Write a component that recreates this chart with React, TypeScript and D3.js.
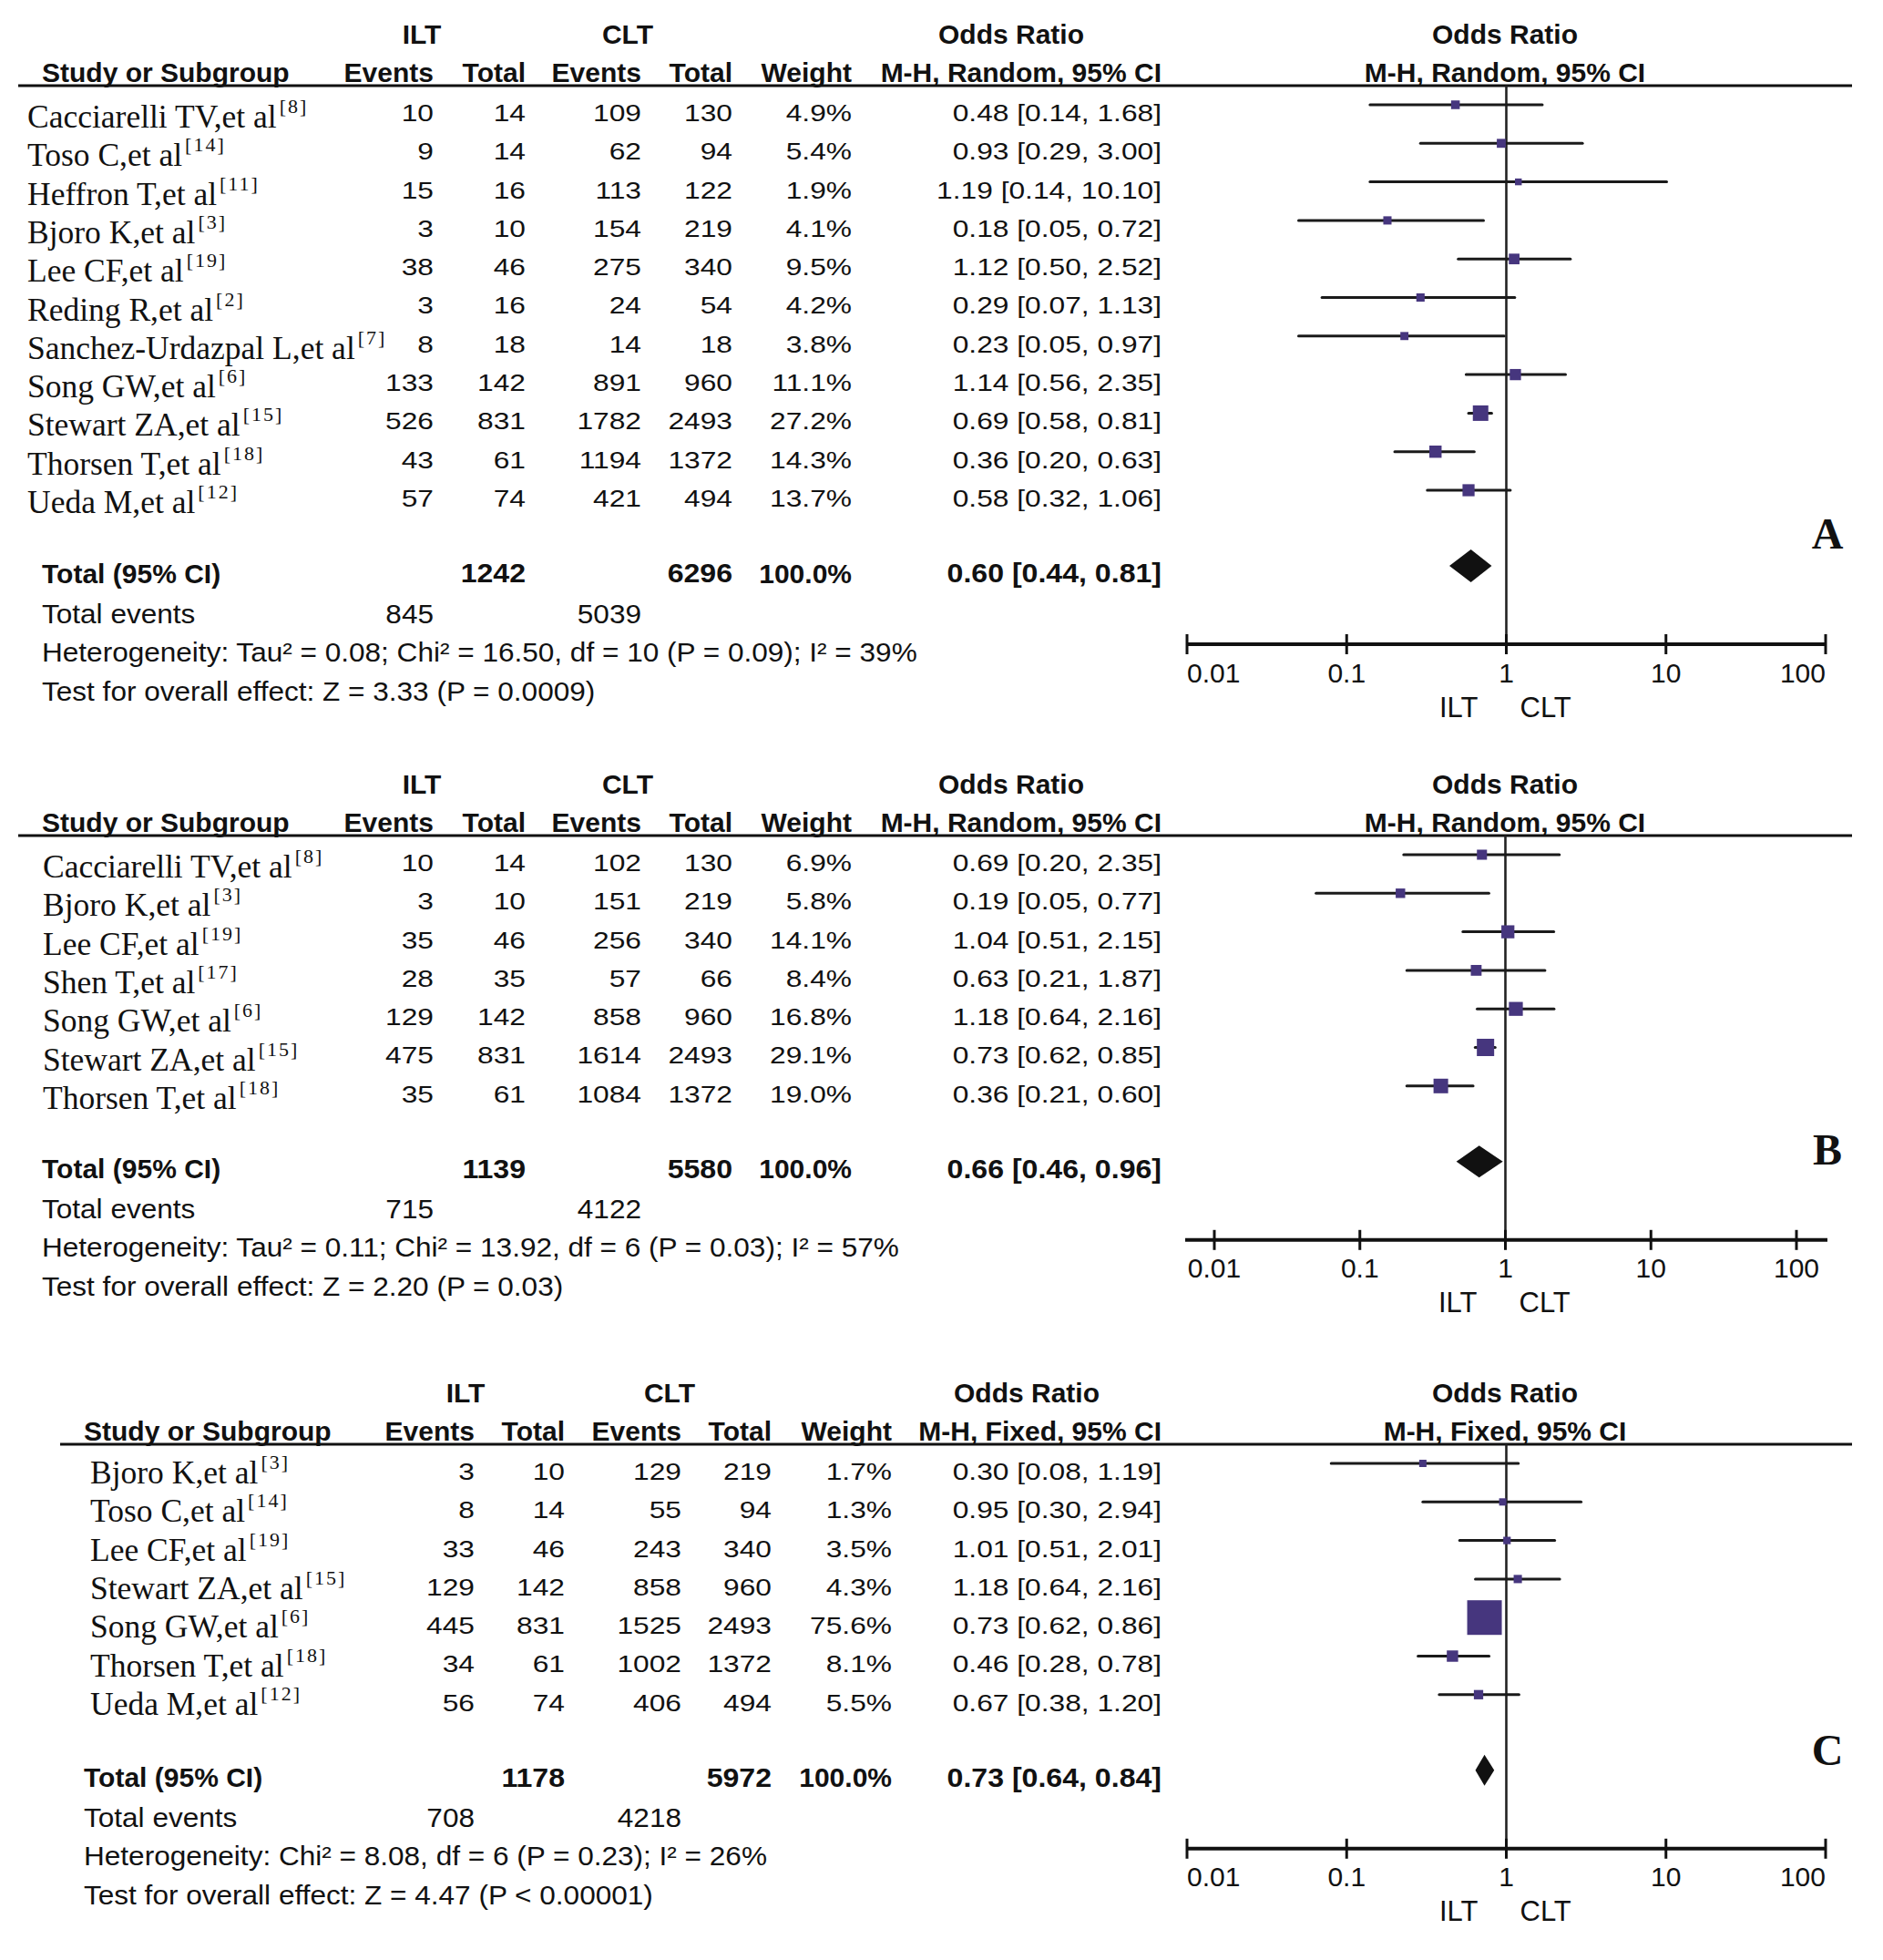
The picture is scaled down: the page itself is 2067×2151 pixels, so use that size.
import React, { useEffect } from "react";
import * as d3 from "d3";

interface StudyRow {
  study: string;
  ref: number;
  iltEvents: number;
  iltTotal: number;
  cltEvents: number;
  cltTotal: number;
  weight: number;
  or: number;
  lo: number;
  hi: number;
}

interface TotalRow {
  iltTotal: number;
  cltTotal: number;
  iltEvents: number;
  cltEvents: number;
  or: number;
  lo: number;
  hi: number;
}

// ---- data ----
const studiesA: StudyRow[] = [
  { study: "Cacciarelli TV", ref: 8, iltEvents: 10, iltTotal: 14, cltEvents: 109, cltTotal: 130, weight: 4.9, or: 0.48, lo: 0.14, hi: 1.68 },
  { study: "Toso C", ref: 14, iltEvents: 9, iltTotal: 14, cltEvents: 62, cltTotal: 94, weight: 5.4, or: 0.93, lo: 0.29, hi: 3.0 },
  { study: "Heffron T", ref: 11, iltEvents: 15, iltTotal: 16, cltEvents: 113, cltTotal: 122, weight: 1.9, or: 1.19, lo: 0.14, hi: 10.1 },
  { study: "Bjoro K", ref: 3, iltEvents: 3, iltTotal: 10, cltEvents: 154, cltTotal: 219, weight: 4.1, or: 0.18, lo: 0.05, hi: 0.72 },
  { study: "Lee CF", ref: 19, iltEvents: 38, iltTotal: 46, cltEvents: 275, cltTotal: 340, weight: 9.5, or: 1.12, lo: 0.5, hi: 2.52 },
  { study: "Reding R", ref: 2, iltEvents: 3, iltTotal: 16, cltEvents: 24, cltTotal: 54, weight: 4.2, or: 0.29, lo: 0.07, hi: 1.13 },
  { study: "Sanchez-Urdazpal L", ref: 7, iltEvents: 8, iltTotal: 18, cltEvents: 14, cltTotal: 18, weight: 3.8, or: 0.23, lo: 0.05, hi: 0.97 },
  { study: "Song GW", ref: 6, iltEvents: 133, iltTotal: 142, cltEvents: 891, cltTotal: 960, weight: 11.1, or: 1.14, lo: 0.56, hi: 2.35 },
  { study: "Stewart ZA", ref: 15, iltEvents: 526, iltTotal: 831, cltEvents: 1782, cltTotal: 2493, weight: 27.2, or: 0.69, lo: 0.58, hi: 0.81 },
  { study: "Thorsen T", ref: 18, iltEvents: 43, iltTotal: 61, cltEvents: 1194, cltTotal: 1372, weight: 14.3, or: 0.36, lo: 0.2, hi: 0.63 },
  { study: "Ueda M", ref: 12, iltEvents: 57, iltTotal: 74, cltEvents: 421, cltTotal: 494, weight: 13.7, or: 0.58, lo: 0.32, hi: 1.06 },
];
const totalA: TotalRow = { iltTotal: 1242, cltTotal: 6296, iltEvents: 845, cltEvents: 5039, or: 0.6, lo: 0.44, hi: 0.81 };
const statsA = [
  "Heterogeneity: Tau\u00b2 = 0.08; Chi\u00b2 = 16.50, df = 10 (P = 0.09); I\u00b2 = 39%",
  "Test for overall effect: Z = 3.33 (P = 0.0009)",
];

const studiesB: StudyRow[] = [
  { study: "Cacciarelli TV", ref: 8, iltEvents: 10, iltTotal: 14, cltEvents: 102, cltTotal: 130, weight: 6.9, or: 0.69, lo: 0.2, hi: 2.35 },
  { study: "Bjoro K", ref: 3, iltEvents: 3, iltTotal: 10, cltEvents: 151, cltTotal: 219, weight: 5.8, or: 0.19, lo: 0.05, hi: 0.77 },
  { study: "Lee CF", ref: 19, iltEvents: 35, iltTotal: 46, cltEvents: 256, cltTotal: 340, weight: 14.1, or: 1.04, lo: 0.51, hi: 2.15 },
  { study: "Shen T", ref: 17, iltEvents: 28, iltTotal: 35, cltEvents: 57, cltTotal: 66, weight: 8.4, or: 0.63, lo: 0.21, hi: 1.87 },
  { study: "Song GW", ref: 6, iltEvents: 129, iltTotal: 142, cltEvents: 858, cltTotal: 960, weight: 16.8, or: 1.18, lo: 0.64, hi: 2.16 },
  { study: "Stewart ZA", ref: 15, iltEvents: 475, iltTotal: 831, cltEvents: 1614, cltTotal: 2493, weight: 29.1, or: 0.73, lo: 0.62, hi: 0.85 },
  { study: "Thorsen T", ref: 18, iltEvents: 35, iltTotal: 61, cltEvents: 1084, cltTotal: 1372, weight: 19.0, or: 0.36, lo: 0.21, hi: 0.6 },
];
const totalB: TotalRow = { iltTotal: 1139, cltTotal: 5580, iltEvents: 715, cltEvents: 4122, or: 0.66, lo: 0.46, hi: 0.96 };
const statsB = [
  "Heterogeneity: Tau\u00b2 = 0.11; Chi\u00b2 = 13.92, df = 6 (P = 0.03); I\u00b2 = 57%",
  "Test for overall effect: Z = 2.20 (P = 0.03)",
];

const studiesC: StudyRow[] = [
  { study: "Bjoro K", ref: 3, iltEvents: 3, iltTotal: 10, cltEvents: 129, cltTotal: 219, weight: 1.7, or: 0.3, lo: 0.08, hi: 1.19 },
  { study: "Toso C", ref: 14, iltEvents: 8, iltTotal: 14, cltEvents: 55, cltTotal: 94, weight: 1.3, or: 0.95, lo: 0.3, hi: 2.94 },
  { study: "Lee CF", ref: 19, iltEvents: 33, iltTotal: 46, cltEvents: 243, cltTotal: 340, weight: 3.5, or: 1.01, lo: 0.51, hi: 2.01 },
  { study: "Stewart ZA", ref: 15, iltEvents: 129, iltTotal: 142, cltEvents: 858, cltTotal: 960, weight: 4.3, or: 1.18, lo: 0.64, hi: 2.16 },
  { study: "Song GW", ref: 6, iltEvents: 445, iltTotal: 831, cltEvents: 1525, cltTotal: 2493, weight: 75.6, or: 0.73, lo: 0.62, hi: 0.86 },
  { study: "Thorsen T", ref: 18, iltEvents: 34, iltTotal: 61, cltEvents: 1002, cltTotal: 1372, weight: 8.1, or: 0.46, lo: 0.28, hi: 0.78 },
  { study: "Ueda M", ref: 12, iltEvents: 56, iltTotal: 74, cltEvents: 406, cltTotal: 494, weight: 5.5, or: 0.67, lo: 0.38, hi: 1.2 },
];
const totalC: TotalRow = { iltTotal: 1178, cltTotal: 5972, iltEvents: 708, cltEvents: 4218, or: 0.73, lo: 0.64, hi: 0.84 };
const statsC = [
  "Heterogeneity: Chi\u00b2 = 8.08, df = 6 (P = 0.23); I\u00b2 = 26%",
  "Test for overall effect: Z = 4.47 (P < 0.00001)",
];

const tickValues = [0.01, 0.1, 1, 10, 100];
const tickLabels = ["0.01", "0.1", "1", "10", "100"];
const groupLabels = ["ILT", "CLT"];
const columnLabels = ["Events", "Total", "Events", "Total", "Weight"];

// ---- layout ----
const W = 2067;
const H = 2151;
const ROW_H = 42.3;
const SANS = "'Liberation Sans', Arial, Helvetica, sans-serif";
const SERIF = "'Liberation Serif', 'Times New Roman', Times, serif";
const INK = "#111";
const BOX = "#46367e";
const CI_RIGHT = 1275;
const PLOT_MID = 1652;

interface Layout {
  lineY: number;
  lineX0: number;
  labelX: number;
  nameX: number;
  nameDy: number;
  cols: number[];
  groupX: number[];
  orX: number;
  plot: [number, number];
  axisExtent: [number, number];
  marker: [number, number];
  markerMin: number;
  diamondH: number;
  letter: string;
  letterY: number;
  method: string;
}

const layoutA: Layout = {
  lineY: 94, lineX0: 20, labelX: 46, nameX: 30, nameDy: 25,
  cols: [476, 577, 704, 804, 935], groupX: [463, 689], orX: 1110,
  plot: [1303, 2004], axisExtent: [1303, 2004], marker: [4, 17], markerMin: 7,
  diamondH: 18, letter: "A", letterY: 602, method: "M-H, Random, 95% CI",
};
const layoutB: Layout = {
  lineY: 917, lineX0: 20, labelX: 46, nameX: 47, nameDy: 25,
  cols: [476, 577, 704, 804, 935], groupX: [463, 689], orX: 1110,
  plot: [1333, 1972], axisExtent: [1301, 2006], marker: [3.5, 19], markerMin: 8,
  diamondH: 17.5, letter: "B", letterY: 1278, method: "M-H, Random, 95% CI",
};
const layoutC: Layout = {
  lineY: 1585, lineX0: 66, labelX: 92, nameX: 99, nameDy: 22,
  cols: [521, 620, 748, 847, 979], groupX: [511, 735], orX: 1127,
  plot: [1303, 2004], axisExtent: [1303, 2004], marker: [0, 38], markerMin: 8,
  diamondH: 17, letter: "C", letterY: 1937, method: "M-H, Fixed, 95% CI",
};

// text styles: size + horizontal stretch (the source fonts are a little wide)
const BOLD = { fontFamily: SANS, fontWeight: 700, fontSize: 30, fill: INK, sx: 1 };
const BOLD_NUM = { ...BOLD, sx: 1.07 };
const CELL = { fontFamily: SANS, fontWeight: 400, fontSize: 26, fill: INK, sx: 1.22 };
const PLAIN = { fontFamily: SANS, fontWeight: 400, fontSize: 29.5, fill: INK, sx: 1.07 };
const TICK = { fontFamily: SANS, fontWeight: 400, fontSize: 30, fill: INK, sx: 1 };
const SIDE = { fontFamily: SANS, fontWeight: 400, fontSize: 31, fill: INK, sx: 1 };

type TxtStyle = typeof BOLD;

const Txt: React.FC<{ x: number; y: number; s: TxtStyle; anchor?: "start" | "middle" | "end"; children: React.ReactNode }> = ({
  x, y, s, anchor = "start", children,
}) => (
  <text
    transform={`translate(${x},${y}) scale(${s.sx},1)`}
    textAnchor={anchor}
    dominantBaseline="central"
    fontFamily={s.fontFamily}
    fontWeight={s.fontWeight}
    fontSize={s.fontSize}
    fill={s.fill}
  >
    {children}
  </text>
);

const fmt2 = d3.format(".2f");
const ciText = (r: { or: number; lo: number; hi: number }) => `${fmt2(r.or)} [${fmt2(r.lo)}, ${fmt2(r.hi)}]`;

const Panel: React.FC<{ rows: StudyRow[]; total: TotalRow; stats: string[]; L: Layout }> = ({ rows, total, stats, L }) => {
  const x = d3.scaleLog().domain([0.01, 100]).range(L.plot);
  const size = d3
    .scaleSqrt()
    .domain([0, d3.max(rows, (r) => r.weight)!])
    .range(L.marker);
  const headTop = L.lineY - 57;
  const headSub = L.lineY - 15;
  const rowY = (i: number) => L.lineY + 21 + i * ROW_H;
  const totalY = rowY(rows.length - 1) + 83;
  const axisY = totalY + 86;
  const x1 = x(1);

  return (
    <g>
      {/* header row 1 */}
      {groupLabels.map((g, i) => (
        <Txt key={g} x={L.groupX[i]} y={headTop} s={BOLD} anchor="middle">{g}</Txt>
      ))}
      <Txt x={L.orX} y={headTop} s={BOLD} anchor="middle">Odds Ratio</Txt>
      <Txt x={PLOT_MID} y={headTop} s={BOLD} anchor="middle">Odds Ratio</Txt>

      {/* header row 2 */}
      <Txt x={L.labelX} y={headSub} s={BOLD}>Study or Subgroup</Txt>
      {columnLabels.map((c, i) => (
        <Txt key={i} x={L.cols[i]} y={headSub} s={BOLD} anchor="end">{c}</Txt>
      ))}
      <Txt x={CI_RIGHT} y={headSub} s={BOLD} anchor="end">{L.method}</Txt>
      <Txt x={PLOT_MID} y={headSub} s={BOLD} anchor="middle">{L.method}</Txt>

      <line x1={L.lineX0} x2={2033} y1={L.lineY} y2={L.lineY} stroke={INK} strokeWidth={3} />
      <line x1={x1} x2={x1} y1={L.lineY} y2={axisY} stroke="#222" strokeWidth={2.6} />

      {/* study rows */}
      {rows.map((r, i) => {
        const y = rowY(i);
        const vals = [r.iltEvents, r.iltTotal, r.cltEvents, r.cltTotal];
        const s = Math.max(L.markerMin, size(r.weight));
        return (
          <g key={r.study}>
            <text x={L.nameX} y={y + L.nameDy} fontFamily={SERIF} fontSize={35.5} fill={INK}>
              {r.study},et al
              <tspan fontSize={22} dx={3} dy={-16} letterSpacing={2}>{`[${r.ref}]`}</tspan>
            </text>
            {vals.map((v, j) => (
              <Txt key={j} x={L.cols[j]} y={y + 9} s={CELL} anchor="end">{v}</Txt>
            ))}
            <Txt x={L.cols[4]} y={y + 9} s={CELL} anchor="end">{r.weight.toFixed(1)}%</Txt>
            <Txt x={CI_RIGHT} y={y + 9} s={CELL} anchor="end">{ciText(r)}</Txt>
            <line x1={x(r.lo)} x2={x(r.hi)} y1={y} y2={y} stroke="#1a1a1a" strokeWidth={3} strokeLinecap="round" />
            <rect x={x(r.or) - s / 2} y={y - s / 2} width={s} height={s} fill={BOX} />
          </g>
        );
      })}

      {/* totals */}
      <Txt x={L.labelX} y={totalY + 8} s={BOLD}>Total (95% CI)</Txt>
      <Txt x={L.cols[1]} y={totalY + 8} s={BOLD_NUM} anchor="end">{total.iltTotal}</Txt>
      <Txt x={L.cols[3]} y={totalY + 8} s={BOLD_NUM} anchor="end">{total.cltTotal}</Txt>
      <Txt x={L.cols[4]} y={totalY + 8} s={BOLD} anchor="end">100.0%</Txt>
      <Txt x={CI_RIGHT} y={totalY + 8} s={BOLD_NUM} anchor="end">{ciText(total)}</Txt>
      <path
        d={`M${x(total.lo)},${totalY}L${x(total.or)},${totalY - L.diamondH}L${x(total.hi)},${totalY}L${x(total.or)},${totalY + L.diamondH}Z`}
        fill={INK}
      />
      <Txt x={L.labelX} y={totalY + 52} s={PLAIN}>Total events</Txt>
      <Txt x={L.cols[0]} y={totalY + 52} s={PLAIN} anchor="end">{total.iltEvents}</Txt>
      <Txt x={L.cols[2]} y={totalY + 52} s={PLAIN} anchor="end">{total.cltEvents}</Txt>
      {stats.map((s, i) => (
        <Txt key={i} x={L.labelX} y={totalY + 94 + i * 43} s={PLAIN}>{s}</Txt>
      ))}

      {/* axis */}
      <line x1={L.axisExtent[0]} x2={L.axisExtent[1]} y1={axisY} y2={axisY} stroke={INK} strokeWidth={4} />
      {tickValues.map((t, i) => {
        const tx = x(t);
        const anchor = Math.abs(tx - L.axisExtent[0]) < 4 ? "start" : Math.abs(tx - L.axisExtent[1]) < 4 ? "end" : "middle";
        return (
          <g key={t}>
            <line x1={tx} x2={tx} y1={axisY - 11} y2={axisY + 11} stroke={INK} strokeWidth={3} />
            <Txt x={tx} y={axisY + 31} s={TICK} anchor={anchor}>{tickLabels[i]}</Txt>
          </g>
        );
      })}
      <Txt x={x1 - 31} y={axisY + 69} s={SIDE} anchor="end">{groupLabels[0]}</Txt>
      <Txt x={x1 + 15} y={axisY + 69} s={SIDE}>{groupLabels[1]}</Txt>

      <text x={2006} y={L.letterY} textAnchor="middle" fontFamily={SERIF} fontWeight={700} fontSize={48} fill={INK}>
        {L.letter}
      </text>
    </g>
  );
};

const App: React.FC = () => {
  useEffect(() => {
    document.body.style.margin = "0";
  }, []);

  return (
    <svg width={W} height={H} viewBox={`0 0 ${W} ${H}`} style={{ display: "block", background: "#fff" }}>
      <rect width={W} height={H} fill="#fff" />
      <Panel rows={studiesA} total={totalA} stats={statsA} L={layoutA} />
      <Panel rows={studiesB} total={totalB} stats={statsB} L={layoutB} />
      <Panel rows={studiesC} total={totalC} stats={statsC} L={layoutC} />
    </svg>
  );
};

export default App;
